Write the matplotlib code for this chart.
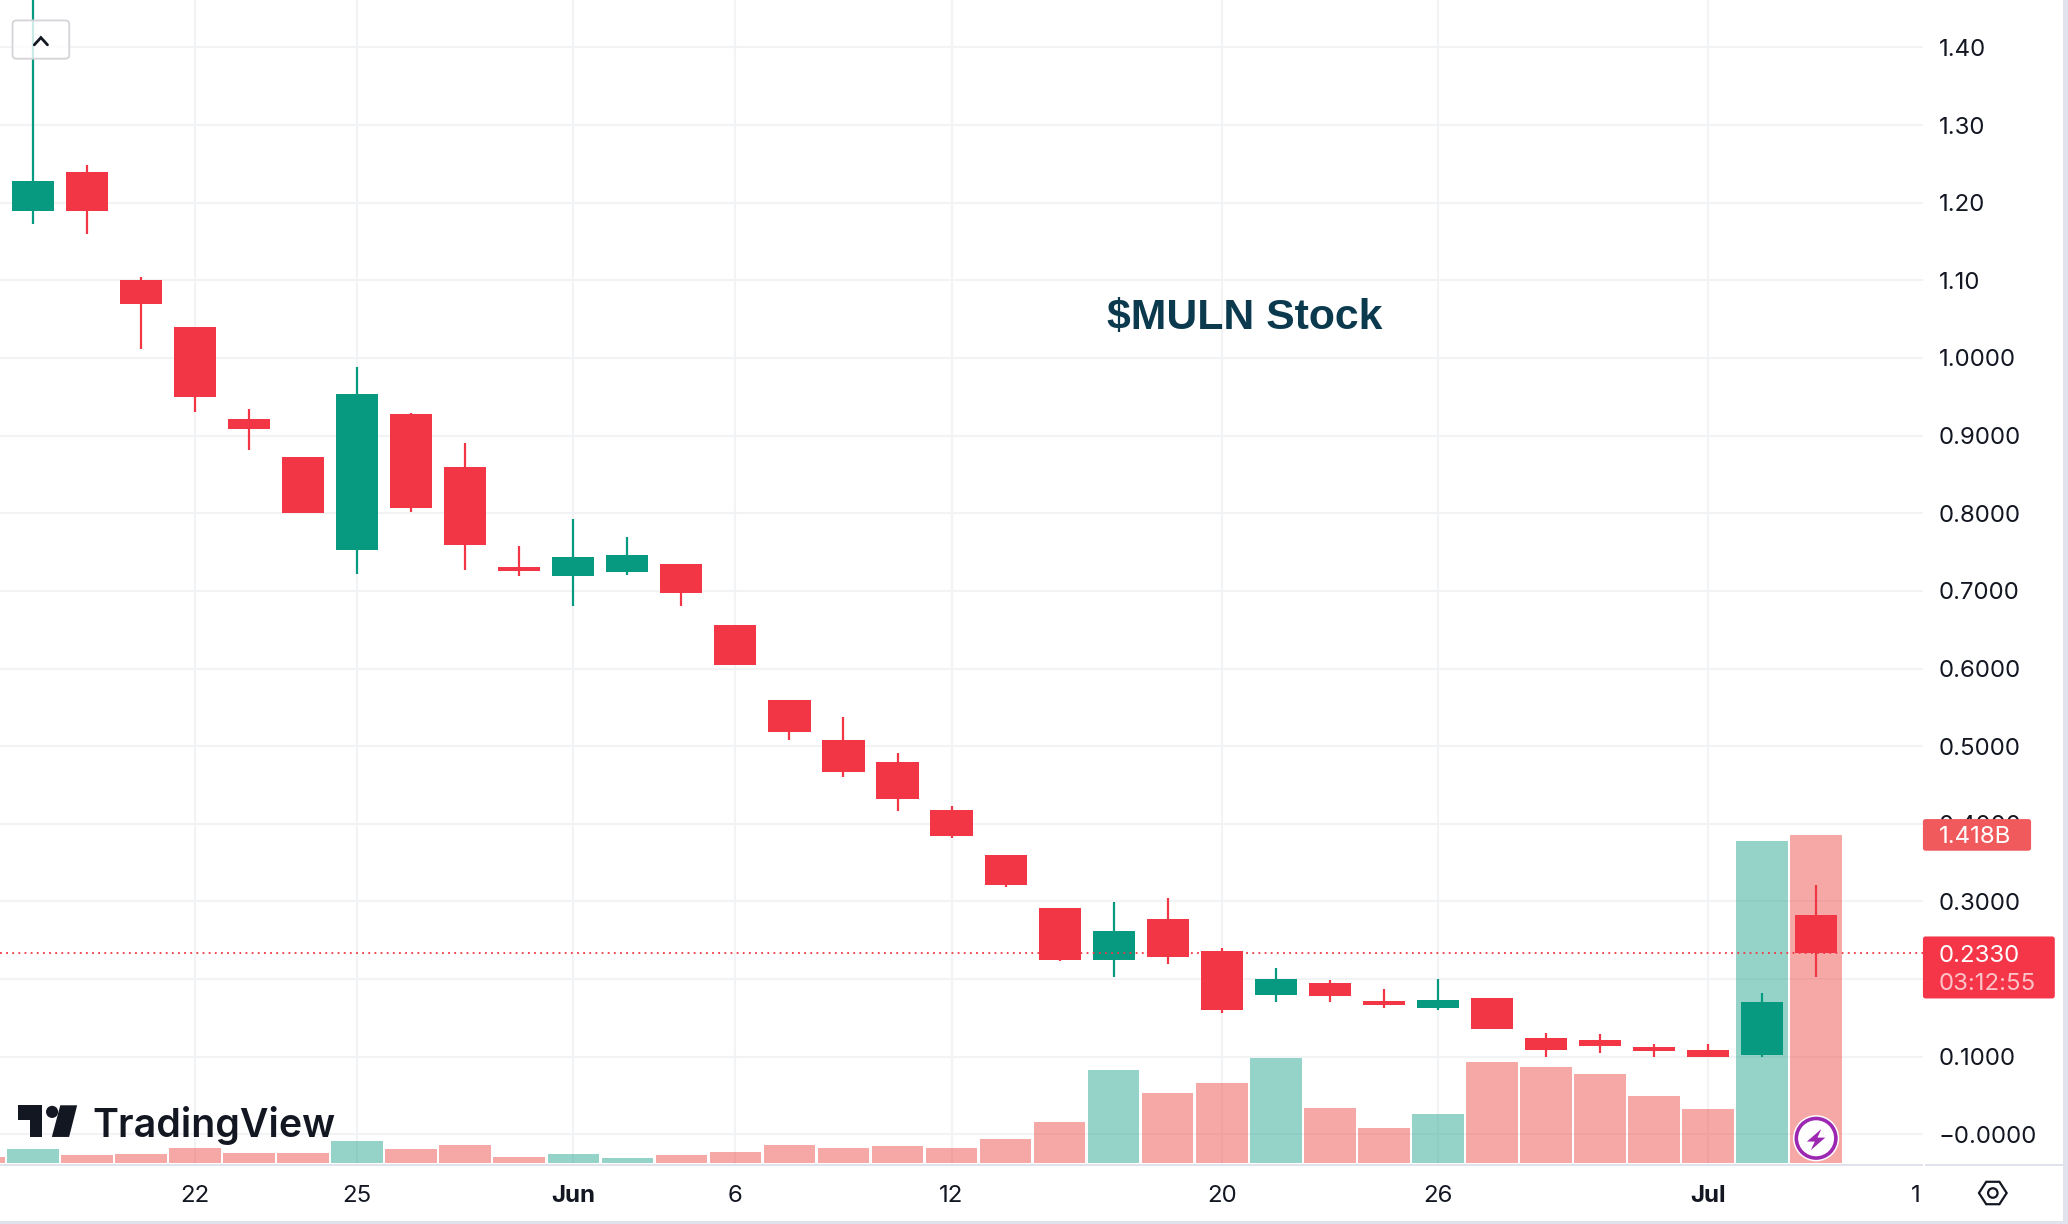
import matplotlib
matplotlib.use("Agg")
import matplotlib.pyplot as plt
from matplotlib.patches import FancyBboxPatch, Polygon, Circle, Rectangle

plt.rcParams['font.family'] = ['Inter', 'DejaVu Sans']

# ---- data ----
opens  = [1.189,1.239,1.101,1.040,0.921,0.872,0.753,0.928,0.860,0.731,0.719,0.724,0.734,0.656,0.559,0.508,0.479,0.418,0.360,0.292,0.224,0.277,0.236,0.180,0.195,0.172,0.163,0.175,0.124,0.121,0.112,0.109,0.102,0.282]
closes = [1.228,1.189,1.069,0.950,0.909,0.800,0.953,0.807,0.759,0.725,0.744,0.746,0.697,0.605,0.518,0.467,0.432,0.384,0.321,0.224,0.262,0.229,0.160,0.200,0.178,0.166,0.173,0.136,0.109,0.114,0.107,0.100,0.170,0.233]
highs  = [1.470,1.249,1.104,1.040,0.934,0.872,0.989,0.929,0.890,0.758,0.792,0.770,0.734,0.656,0.559,0.537,0.491,0.423,0.360,0.292,0.299,0.304,0.240,0.214,0.199,0.187,0.200,0.175,0.131,0.129,0.116,0.116,0.182,0.321]
lows   = [1.172,1.160,1.011,0.931,0.882,0.800,0.722,0.802,0.727,0.719,0.681,0.720,0.681,0.605,0.508,0.460,0.416,0.382,0.319,0.223,0.202,0.219,0.156,0.170,0.170,0.163,0.160,0.136,0.100,0.105,0.100,0.099,0.099,0.202]
volumes = [0.063,0.034,0.040,0.068,0.046,0.046,0.097,0.063,0.080,0.028,0.040,0.023,0.034,0.051,0.080,0.068,0.074,0.068,0.103,0.177,0.404,0.302,0.347,0.456,0.239,0.154,0.211,0.439,0.416,0.387,0.290,0.233,1.390,1.418]
prior_volume = 0.028
price_ticks = [1.4,1.3,1.2,1.1,1.0,0.9,0.8,0.7,0.6,0.5,0.4,0.3,0.2,0.1,0.0]
price_labels = ['1.40','1.30','1.20','1.10','1.0000','0.9000','0.8000','0.7000','0.6000','0.5000','0.4000','0.3000','','0.1000','\u22120.0000']
date_ticks = [3,6,10,13,17,22,26,31]
date_labels = ['22','25','Jun','6','12','20','26','Jul']
last_price = 0.233

GREEN, RED = '#089981', '#F23645'
VG, VR = '#2DA995', '#EF5350'
GRID = '#F2F3F5'
INK = '#131722'
W, H = 1568, 928   # overlay coordinate frame
FS = 17.3

fig = plt.figure(figsize=(20.68,12.24), dpi=100, facecolor='white')
ax = fig.add_axes([0, 1-883/H, 1458/W, 883/H])
ax.set_zorder(0)
ax.set_facecolor('white')
i0, di = 25, 40.97
xlim = (-i0/di, (1458-i0)/di)
ylim = (-23/588.6, 860/588.6)
ax.set_xlim(*xlim)
ax.set_ylim(*ylim)

ax.hlines(price_ticks, *xlim, color=GRID, lw=1.5, zorder=0)
ax.vlines(date_ticks, *ylim, color=GRID, lw=1.5, zorder=0)

# volume on its own scale, above the grid
axv = ax.twinx()
axv.set_zorder(1)
axv.set_ylim(-0.0057, 5.02)
axv.axis('off')
axv.patch.set_visible(False)
vx = [-1] + list(range(len(volumes)))
vv = [prior_volume] + volumes
vc = [VR] + [VG if c >= o else VR for o, c in zip(opens, closes)]
axv.bar(vx, vv, width=0.955, color=vc, alpha=0.5, linewidth=0, zorder=1)

# candles, above the volume
axc = ax.twinx()
axc.set_zorder(2)
axc.set_ylim(*ylim)
axc.axis('off')
axc.patch.set_visible(False)
for i, (o, c, h, l) in enumerate(zip(opens, closes, highs, lows)):
    col = GREEN if c >= o else RED
    axc.vlines(i, l, h, color=col, lw=1.6, zorder=3)
    axc.bar(i, abs(c-o), bottom=min(o, c), width=0.78, color=col, linewidth=0, zorder=4)
axc.hlines(last_price, *xlim, color=RED, lw=1.3, linestyles=(0, (1, 2.4)), zorder=5)

for s in ax.spines.values():
    s.set_visible(False)
ax.yaxis.tick_right()
ax.set_yticks(price_ticks)
ax.set_yticklabels(price_labels)
ax.tick_params(axis='y', length=0, pad=11.4, labelsize=FS, labelcolor=INK, labelright=True, labelleft=False)
ax.set_xticks(date_ticks + [34.85])
ax.set_xticklabels(date_labels + ['1'])
ax.tick_params(axis='x', length=0, pad=15, labelsize=FS, labelcolor=INK)
for t in ax.get_xticklabels():
    if t.get_text() in ('Jun', 'Jul'):
        t.set_fontweight('bold')

# interface chrome, in a full-figure overlay
ov = fig.add_axes([0,0,1,1])
ov.set_zorder(5)
ov.set_xlim(0, W); ov.set_ylim(H, 0)
ov.axis('off'); ov.patch.set_visible(False)
BAND = '#E0E3EB'
ov.add_patch(Rectangle((0, 882.5), 1458, 1.6, color=BAND, lw=0))
ov.add_patch(Rectangle((1459.5, 882.5), 105, 1.6, color=BAND, lw=0))
ov.add_patch(Rectangle((0, 925.5), 1568, 2.5, color=BAND, lw=0))
ov.add_patch(Rectangle((1564, 0), 4, 928, color=BAND, lw=0))

ov.text(943.5, 241, '$MULN Stock', family=['Liberation Sans'], fontweight='bold', fontsize=30.8,
        color='#0B3A4E', ha='center', va='center')

# last-volume and last-price labels
ov.add_patch(FancyBboxPatch((1458, 621), 82, 24, boxstyle='round,pad=0,rounding_size=2', fc='#F15A5C', ec='none'))
ov.text(1470, 634.5, '1.418B', color='white', fontsize=FS, va='center')
ov.add_patch(FancyBboxPatch((1458, 710), 100, 47, boxstyle='round,pad=0,rounding_size=2', fc='#F43648', ec='none'))
ov.text(1470, 724.5, '0.2330', color='white', fontsize=FS, va='center')
ov.text(1470, 746, '03:12:55', color='white', alpha=0.7, fontsize=FS, va='center')

# collapse button
ov.add_patch(FancyBboxPatch((9.5, 15.5), 43, 29, boxstyle='round,pad=0,rounding_size=3',
                            fc=(1,1,1,0.8), ec='#D6D3D8', lw=1.3))
ov.plot([26, 31, 36], [34, 28.5, 34], color=INK, lw=2, solid_capstyle='round', solid_joinstyle='miter')

# TradingView mark
ov.add_patch(Polygon([(13.5,838),(32,838),(32,862),(23,862),(23,849),(13.5,849)], fc=INK, ec='none'))
ov.add_patch(Circle((39.5,843), 4.6, fc=INK, ec='none'))
ov.add_patch(Polygon([(45.7,838),(58.5,838),(52.4,862),(39.3,862)], fc=INK, ec='none'))
ov.text(70, 853, 'TradingView', family=['Inter'], fontweight='semibold', fontsize=28.3,
        color=INK, va='center', ha='left')

# lightning badge
ov.add_patch(Circle((1377, 863), 17.5, fc='white', ec='none'))
ov.add_patch(Circle((1377, 863), 15, fc='white', ec='#9C27B0', lw=2.6))
ov.add_patch(Polygon([(1381,856),(1370,865.5),(1376,865.5),(1373,872),(1384,862.5),(1378,862.5)], fc='#9C27B0', ec='none'))

# settings hexagon
ov.add_patch(Polygon([(1500.5,904.5),(1506,896),(1516,896),(1521.5,904.5),(1516,913),(1506,913)],
                     fc='none', ec=INK, lw=1.6))
ov.add_patch(Circle((1511,904.5), 3.6, fc='none', ec=INK, lw=1.6))

fig.savefig('out.png', dpi=100)
